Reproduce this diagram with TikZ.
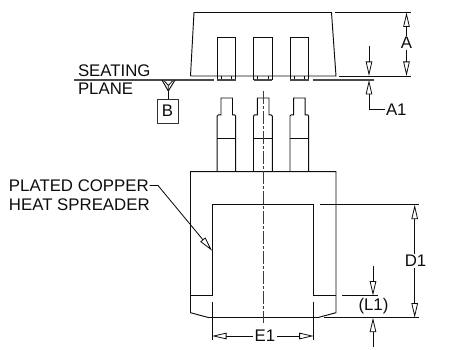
\documentclass[tikz,border=0pt]{standalone}
\usepackage{fontspec}
\setmainfont{Liberation Sans}
\usetikzlibrary{arrows.meta}
\definecolor{ink}{gray}{0.05}
\tikzset{
  part/.style={draw=ink,line width=0.95pt,line join=miter},
  thin line/.style={draw=ink,line width=0.85pt},
  plane/.style={draw=ink!75,line width=1.15pt},
  centre/.style={draw=ink!80,line width=0.85pt,dash pattern=on 13pt off 2pt on 3pt off 2pt},
  dimarrow/.style={draw=ink,line width=0.85pt,-{Triangle[open,length=14.5pt,width=6.5pt,line width=0.8pt]}},
  label/.style={font=\fontsize{16.8pt}{19pt}\selectfont,text=ink,inner sep=1pt,outer sep=0pt},
  dimlabel/.style={label,inner sep=1.5pt}
}
\begin{document}
\begin{tikzpicture}[x=1pt,y=-1pt]
\useasboundingbox (0,0) rectangle (459,350);
% package side view
\draw[part] (190.5,76) -- (194,12.5) -- (331.5,12.5) -- (336,76) -- (190.5,76);
\foreach \xa/\xb in {217/235.7,253.5/272.3,290/308.7}{
  \draw[part] (\xa,80.5) -- (\xa,37.5) -- (\xb,37.5) -- (\xb,80.5);
  \draw[part,line width=0.8pt] (\xa+4,76) -- (\xa+4,80.5) (\xb-4,76) -- (\xb-4,80.5);
  \draw[plane] (\xa,80) -- (\xb,80);
}
% seating plane
\coordinate (spL) at (74,80); \coordinate (spR) at (214,80);
\coordinate (spC) at (313,80); \coordinate (spD) at (374,80);
\draw[plane] (spL) -- (spR) (spC) -- (spD);
\node[label,anchor=base west] (seat) at (77,77) {SEATING};
\node[label,anchor=base west] (planetxt) at (77,95) {PLANE};
% datum B
\draw[part] (162,80) -- (168.3,91) -- (175,80);
\draw[part,line width=0.8pt] (164.5,81) -- (168.3,85.5) -- (172.5,81) (168.3,85.5) -- (168.3,91);
\node[draw=ink!85,line width=0.9pt,minimum width=21pt,minimum height=24pt,inner sep=0pt,font=\fontsize{16.8pt}{19pt}\selectfont,text=ink] (datumB) at (167.5,111) {B};
\coordinate (datumApex) at (168.3,91);
\draw[thin line] (datumApex) -- (datumApex |- datumB.north);
% leads
\foreach \xa/\xb/\na/\nb in {217.2/235.7/221/232.5,253.5/272.3/257.3/269,290/308.7/293.7/305.2}{
  \draw[part] (\xa,172) -- (\xa,116) -- (\xa+1.2,114.8) -- (\na,114.8) -- (\na,98) -- (\nb,98) -- (\nb,114.8) -- (\xb-1.2,114.8) -- (\xb,116) -- (\xb,172);
  \draw[part] (\xa,138) -- (\xb,138);
}
% body
\draw[part] (209,317.7) -- (190.5,312.7) -- (190.5,171.7) -- (336,171.7) -- (336,312.7) -- (317.5,317.7);
\draw[part] (209,317.7) -- (317.5,317.7);
\draw[part] (190.5,295.7) -- (212,295.7) -- (212,204.7) -- (313.7,204.7) -- (313.7,295.7) -- (336,295.7);
% centre line
\coordinate (clT) at (263,91); \coordinate (clB) at (263,323);
\draw[centre] (clT) -- (clB);
% dim A
\draw[thin line] (335,12.5) -- (411,12.5) (339,76) -- (411,76);
\node[dimlabel] (dimA) at (406.5,43) {A};
\coordinate (aT) at (406.5,12.5); \coordinate (aB) at (406.5,76);
\draw[dimarrow] (dimA) -- (aT);
\draw[dimarrow] (dimA) -- (aB);
% dim A1
\coordinate (a1S) at (369,46.5); \coordinate (a1T) at (369,76);
\coordinate (a1B) at (369,80); \coordinate (a1K) at (369,109.5);
\node[label,anchor=west] (dimAone) at (385,109.5) {A1};
\draw[dimarrow] (a1S) -- (a1T);
\draw[dimarrow] (dimAone.west) -- (a1K) -- (a1B);
% dim D1
\draw[thin line] (320,204.7) -- (419,204.7) (324,317.7) -- (419,317.7);
\node[dimlabel] (dimD) at (415.6,261) {D1};
\coordinate (dT) at (414.7,204.7); \coordinate (dB) at (414.7,317.7);
\draw[dimarrow] (dimD.north -| dT) -- (dT);
\draw[dimarrow] (dimD.south -| dB) -- (dB);
% dim L1
\draw[thin line] (342,295.7) -- (377.7,295.7);
\node[label] (dimL) at (373.5,306.5) {(L1)};
\coordinate (lS) at (373,266); \coordinate (lT) at (373,295.7);
\coordinate (lE) at (373,347); \coordinate (lB) at (373,317.7);
\draw[dimarrow] (lS) -- (lT);
\draw[dimarrow] (lE) -- (lB);
% dim E1
\coordinate (eL) at (212,336); \coordinate (eR) at (313.7,336);
\draw[thin line] (212,301.7) -- (212,340) (313.7,301.7) -- (313.7,340);
\node[dimlabel] (dimE) at (265,336) {E1};
\draw[dimarrow] (dimE) -- (eL);
\draw[dimarrow] (dimE) -- (eR);
% leader
\node[label,anchor=base west] (plated) at (8,192) {PLATED COPPER};
\node[label,anchor=base west] (heat) at (8,211) {HEAT SPREADER};
\coordinate (leadKnee) at (158,185.5); \coordinate (leadTip) at (212,250.7);
\draw[dimarrow] (plated.east |- leadKnee) -- (leadKnee) -- (leadTip);
\end{tikzpicture}
\end{document}
